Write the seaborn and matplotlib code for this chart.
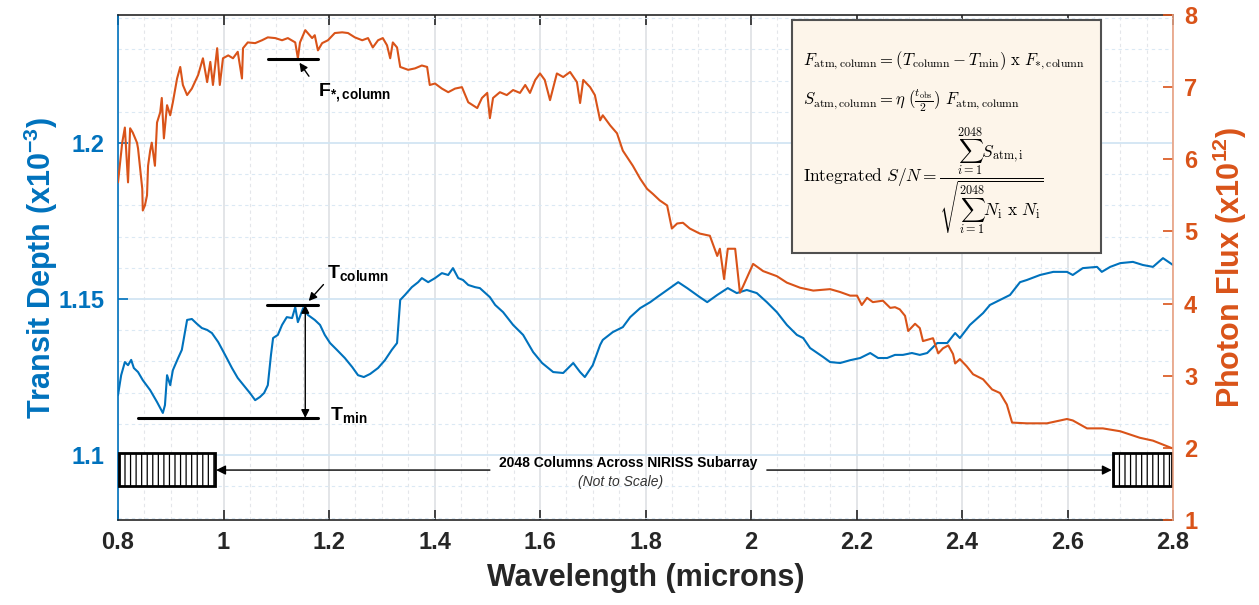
import matplotlib
matplotlib.use("Agg")
import matplotlib.pyplot as plt
import seaborn as sns
import pandas as pd
from matplotlib.patches import Rectangle
from matplotlib.ticker import MultipleLocator, FixedLocator, FixedFormatter

# ---------------- data ----------------
depth_wl = [0.800, 0.806, 0.813, 0.819, 0.825, 0.830, 0.838, 0.847, 0.861, 0.874,
            0.885, 0.889, 0.893, 0.899, 0.904, 0.914, 0.921, 0.927, 0.931, 0.940,
            0.950, 0.959, 0.969, 0.978, 0.990, 1.003, 1.016, 1.027, 1.041, 1.050,
            1.060, 1.069, 1.077, 1.084, 1.090, 1.094, 1.103, 1.111, 1.120, 1.130,
            1.136, 1.141, 1.151, 1.160, 1.173, 1.183, 1.192, 1.202, 1.215, 1.230,
            1.244, 1.255, 1.266, 1.278, 1.293, 1.306, 1.319, 1.329, 1.335, 1.344,
            1.357, 1.369, 1.376, 1.388, 1.401, 1.414, 1.426, 1.435, 1.445, 1.454,
            1.464, 1.477, 1.486, 1.505, 1.515, 1.530, 1.549, 1.568, 1.587, 1.604,
            1.625, 1.644, 1.663, 1.676, 1.685, 1.700, 1.714, 1.719, 1.738, 1.757,
            1.771, 1.790, 1.809, 1.822, 1.846, 1.862, 1.879, 1.903, 1.917, 1.936,
            1.956, 1.973, 1.992, 2.011, 2.030, 2.049, 2.068, 2.087, 2.099, 2.112,
            2.137, 2.150, 2.169, 2.188, 2.207, 2.226, 2.241, 2.258, 2.273, 2.288,
            2.305, 2.320, 2.334, 2.353, 2.372, 2.387, 2.396, 2.415, 2.440, 2.453,
            2.472, 2.491, 2.510, 2.523, 2.548, 2.573, 2.599, 2.610, 2.629, 2.656,
            2.665, 2.681, 2.700, 2.724, 2.743, 2.762, 2.781, 2.800]
depth_val = [1.1192, 1.1256, 1.1298, 1.1288, 1.1305, 1.1279, 1.1266, 1.1240, 1.1208, 1.1170,
             1.1135, 1.1160, 1.1256, 1.1224, 1.1272, 1.1311, 1.1337, 1.1394, 1.1433, 1.1436,
             1.1420, 1.1407, 1.1401, 1.1391, 1.1362, 1.1321, 1.1279, 1.1247, 1.1218, 1.1199,
             1.1176, 1.1186, 1.1199, 1.1224, 1.1321, 1.1375, 1.1385, 1.1417, 1.1442, 1.1439,
             1.1474, 1.1426, 1.1471, 1.1449, 1.1433, 1.1417, 1.1385, 1.1359, 1.1337, 1.1311,
             1.1282, 1.1256, 1.1250, 1.1260, 1.1279, 1.1304, 1.1337, 1.1359, 1.1497, 1.1513,
             1.1538, 1.1554, 1.1567, 1.1554, 1.1567, 1.1583, 1.1577, 1.1599, 1.1567, 1.1561,
             1.1545, 1.1538, 1.1535, 1.1506, 1.1481, 1.1458, 1.1417, 1.1385, 1.1330, 1.1295,
             1.1266, 1.1263, 1.1295, 1.1266, 1.1250, 1.1288, 1.1353, 1.1369, 1.1394, 1.1410,
             1.1442, 1.1471, 1.1490, 1.1506, 1.1535, 1.1554, 1.1535, 1.1506, 1.1490, 1.1513,
             1.1535, 1.1519, 1.1529, 1.1519, 1.1490, 1.1458, 1.1417, 1.1385, 1.1375, 1.1343,
             1.1314, 1.1298, 1.1295, 1.1304, 1.1311, 1.1327, 1.1311, 1.1311, 1.1321, 1.1321,
             1.1327, 1.1321, 1.1327, 1.1359, 1.1359, 1.1391, 1.1375, 1.1417, 1.1455, 1.1481,
             1.1497, 1.1513, 1.1554, 1.1561, 1.1577, 1.1587, 1.1587, 1.1577, 1.1599, 1.1603,
             1.1587, 1.1603, 1.1615, 1.1619, 1.1609, 1.1603, 1.1631, 1.1609]

flux_wl = [0.800, 0.808, 0.813, 0.819, 0.823, 0.828, 0.836, 0.838, 0.842, 0.846,
           0.847, 0.851, 0.855, 0.857, 0.861, 0.864, 0.870, 0.874, 0.880, 0.883,
           0.887, 0.893, 0.899, 0.904, 0.912, 0.918, 0.923, 0.931, 0.940, 0.952,
           0.961, 0.969, 0.975, 0.980, 0.988, 0.993, 0.999, 1.009, 1.018, 1.027,
           1.035, 1.037, 1.046, 1.060, 1.073, 1.084, 1.098, 1.111, 1.122, 1.136,
           1.141, 1.145, 1.155, 1.168, 1.173, 1.179, 1.187, 1.198, 1.211, 1.225,
           1.236, 1.249, 1.263, 1.274, 1.283, 1.293, 1.302, 1.310, 1.316, 1.321,
           1.329, 1.335, 1.350, 1.363, 1.376, 1.386, 1.391, 1.401, 1.414, 1.426,
           1.439, 1.452, 1.464, 1.481, 1.490, 1.500, 1.505, 1.511, 1.524, 1.537,
           1.549, 1.562, 1.572, 1.581, 1.591, 1.600, 1.609, 1.619, 1.632, 1.644,
           1.657, 1.670, 1.676, 1.682, 1.695, 1.704, 1.714, 1.719, 1.733, 1.746,
           1.757, 1.776, 1.790, 1.803, 1.814, 1.827, 1.841, 1.850, 1.860, 1.871,
           1.884, 1.903, 1.922, 1.936, 1.941, 1.949, 1.956, 1.970, 1.979, 1.985,
           2.004, 2.023, 2.049, 2.068, 2.093, 2.118, 2.150, 2.169, 2.188, 2.201,
           2.210, 2.220, 2.231, 2.250, 2.264, 2.273, 2.282, 2.292, 2.298, 2.311,
           2.320, 2.326, 2.345, 2.355, 2.364, 2.374, 2.383, 2.387, 2.396, 2.409,
           2.421, 2.440, 2.457, 2.472, 2.485, 2.495, 2.523, 2.561, 2.586, 2.599,
           2.610, 2.637, 2.667, 2.700, 2.737, 2.762, 2.800]
flux_val = [5.68, 6.23, 6.44, 5.68, 6.43, 6.37, 6.23, 6.15, 5.87, 5.59,
            5.29, 5.36, 5.50, 5.91, 6.12, 6.23, 5.91, 6.51, 6.65, 6.85,
            6.29, 6.75, 6.61, 6.79, 7.12, 7.28, 7.03, 6.89, 6.98, 7.17,
            7.40, 7.07, 7.35, 7.03, 7.54, 7.03, 7.40, 7.44, 7.40, 7.49,
            7.12, 7.54, 7.62, 7.61, 7.65, 7.69, 7.68, 7.65, 7.68, 7.62,
            7.40, 7.62, 7.79, 7.68, 7.72, 7.51, 7.61, 7.65, 7.75, 7.76,
            7.75, 7.69, 7.65, 7.68, 7.55, 7.65, 7.68, 7.58, 7.40, 7.62,
            7.55, 7.28, 7.24, 7.26, 7.30, 7.28, 7.03, 7.05, 6.98, 6.93,
            6.98, 7.00, 6.79, 6.71, 6.85, 6.92, 6.57, 6.85, 6.93, 6.89,
            6.96, 6.92, 7.03, 6.92, 7.10, 7.19, 7.10, 6.82, 7.19, 7.14,
            7.21, 7.07, 6.78, 7.10, 7.00, 6.89, 6.54, 6.61, 6.47, 6.36,
            6.12, 5.91, 5.73, 5.59, 5.52, 5.43, 5.36, 5.04, 5.11, 5.12,
            5.04, 4.97, 4.94, 4.66, 4.76, 4.34, 4.76, 4.76, 4.15, 4.24,
            4.55, 4.45, 4.38, 4.29, 4.22, 4.18, 4.20, 4.16, 4.11, 4.11,
            3.98, 4.08, 4.02, 4.04, 3.94, 3.95, 3.92, 3.83, 3.62, 3.72,
            3.66, 3.48, 3.52, 3.31, 3.38, 3.42, 3.30, 3.17, 3.23, 3.13,
            3.02, 2.95, 2.81, 2.76, 2.60, 2.35, 2.34, 2.34, 2.38, 2.40,
            2.38, 2.27, 2.27, 2.23, 2.14, 2.10, 1.99]

x_ticks = [0.8, 1.0, 1.2, 1.4, 1.6, 1.8, 2.0, 2.2, 2.4, 2.6, 2.8]
x_tick_labels = ["0.8", "1", "1.2", "1.4", "1.6", "1.8", "2", "2.2", "2.4", "2.6", "2.8"]
depth_ticks = [1.10, 1.15, 1.20]
depth_tick_labels = ["1.1", "1.15", "1.2"]
flux_ticks = [1, 2, 3, 4, 5, 6, 7, 8]
flux_tick_labels = ["1", "2", "3", "4", "5", "6", "7", "8"]

# annotation levels (data units)
t_column_level = 1.1481
t_min_level = 1.1119
f_star_level = 7.39

BLUE = "#0072BD"
ORANGE = "#D95319"
DARK = "#262626"

sns.set_style("white")
plt.rcParams['font.family'] = ['Liberation Sans', 'DejaVu Sans']
plt.rcParams['mathtext.fontset'] = 'custom'
plt.rcParams['mathtext.rm'] = 'Liberation Sans'
plt.rcParams['mathtext.bf'] = 'Liberation Sans:bold'
plt.rcParams['mathtext.it'] = 'Liberation Sans:italic'
plt.rcParams['hatch.linewidth'] = 0.9

W, H = 1259, 605
fig = plt.figure(figsize=(W / 100, H / 100), dpi=100)
ax = fig.add_axes([118 / W, 1 - 520 / H, 1055 / W, 505 / H])
ax2 = ax.twinx()

df_depth = pd.DataFrame({"wl": depth_wl, "depth": depth_val})
df_flux = pd.DataFrame({"wl": flux_wl, "flux": flux_val})

sns.lineplot(data=df_depth, x="wl", y="depth", ax=ax, color=BLUE, lw=1.5,
             sort=False, estimator=None)
sns.lineplot(data=df_flux, x="wl", y="flux", ax=ax2, color=ORANGE, lw=1.5,
             sort=False, estimator=None)

ax.set_xlim(0.8, 2.8)
ax.set_ylim(1.0792, 1.241)
ax2.set_ylim(1, 8)

# ticks
ax.xaxis.set_major_locator(FixedLocator(x_ticks))
ax.xaxis.set_major_formatter(FixedFormatter(x_tick_labels))
ax.xaxis.set_minor_locator(MultipleLocator(0.05))
ax.yaxis.set_major_locator(FixedLocator(depth_ticks))
ax.yaxis.set_major_formatter(FixedFormatter(depth_tick_labels))
ax.yaxis.set_minor_locator(MultipleLocator(0.01))
ax2.yaxis.set_major_locator(FixedLocator(flux_ticks))
ax2.yaxis.set_major_formatter(FixedFormatter(flux_tick_labels))

ax.tick_params(axis='x', which='major', direction='in', top=True, bottom=True,
               length=7, width=1.2, color=DARK, labelcolor=DARK, labelsize=17, pad=8)
ax.tick_params(axis='y', which='major', direction='in', length=7, width=1.2,
               color=BLUE, labelcolor=BLUE, labelsize=17, pad=10)
ax.tick_params(which='minor', length=0)
ax2.tick_params(axis='y', which='major', direction='in', length=7, width=1.2,
                color=ORANGE, labelcolor=ORANGE, labelsize=17, pad=8)
for lab in ax.get_xticklabels() + ax.get_yticklabels() + ax2.get_yticklabels():
    lab.set_fontweight('bold')

# grid
ax.set_axisbelow(True)
ax.grid(which='major', axis='x', color='#e1e3e6', lw=1.3)
ax.grid(which='major', axis='y', color='#d2e5f3', lw=1.3)
ax.grid(which='minor', axis='x', color='#e4e6ea', lw=0.8, ls=(0, (3, 3)))
ax.grid(which='minor', axis='y', color='#dbe9f4', lw=0.8, ls=(0, (3, 3)))
ax2.grid(False)

# spines
for s in ['top', 'bottom']:
    ax.spines[s].set_color(DARK)
    ax.spines[s].set_linewidth(1.2)
ax.spines['left'].set_color(BLUE)
ax.spines['left'].set_linewidth(1.2)
ax.spines['right'].set_visible(False)
for s in ['top', 'bottom', 'left']:
    ax2.spines[s].set_visible(False)
ax2.spines['right'].set_color('#e9a182')
ax2.spines['right'].set_linewidth(1.2)

# labels
ax.set_xlabel("Wavelength (microns)", fontsize=22, fontweight='bold', color=DARK)
ax.xaxis.set_label_coords(0.5, -0.085)
ax.set_ylabel(r"Transit Depth (x10$^{\mathbf{-3}}$)", fontsize=22, fontweight='bold', color=BLUE)
ax.yaxis.set_label_coords(-0.055, 0.5)
ax2.set_ylabel(r"Photon Flux (x10$^{\mathbf{12}}$)", fontsize=22, fontweight='bold', color=ORANGE)
ax2.yaxis.set_label_coords(1.036, 0.5)

# ---------------- annotations ----------------
ann_kw = dict(fontsize=14, fontweight='bold', color='black')
# F*,column
ax2.plot([1.084, 1.179], [f_star_level, f_star_level], color='black', lw=2.2, zorder=5)
ax2.annotate("", xy=(1.141, 7.37), xytext=(1.165, 7.12),
             arrowprops=dict(arrowstyle='-|>', color='black', lw=1.0, mutation_scale=12), zorder=5)
ax2.text(1.179, 6.87, r"F$_{\mathbf{*,column}}$", ha='left', va='baseline', **ann_kw)

# T_column
ax.plot([1.082, 1.179], [t_column_level, t_column_level], color='black', lw=2.2, zorder=5)
ax.annotate("", xy=(1.158, 1.1487), xytext=(1.193, 1.1553),
            arrowprops=dict(arrowstyle='-|>', color='black', lw=1.0, mutation_scale=12), zorder=5)
ax.text(1.197, 1.1567, r"T$_{\mathbf{column}}$", ha='left', va='baseline', **ann_kw)

# T_min
ax.plot([0.838, 1.179], [t_min_level, t_min_level], color='black', lw=2.2, zorder=5)
ax.text(1.202, 1.1112, r"T$_{\mathbf{min}}$", ha='left', va='baseline', **ann_kw)

# double arrow between T_column and T_min
ax.annotate("", xy=(1.155, t_column_level), xytext=(1.155, t_min_level),
            arrowprops=dict(arrowstyle='<|-|>', color='black', lw=1.0,
                            mutation_scale=12, shrinkA=0, shrinkB=0), zorder=5)

# detector boxes
for x0, w in [(0.802, 0.182), (2.686, 0.112)]:
    ax.add_patch(Rectangle((x0, 1.0901), w, 0.0105, facecolor='white',
                           edgecolor='black', lw=2.0, hatch='|||', zorder=6))
ax.annotate("", xy=(0.986, 1.0952), xytext=(1.505, 1.0952),
            arrowprops=dict(arrowstyle='-|>', color='black', lw=1.0,
                            mutation_scale=14, shrinkA=0, shrinkB=0), zorder=6)
ax.annotate("", xy=(2.684, 1.0952), xytext=(2.030, 1.0952),
            arrowprops=dict(arrowstyle='-|>', color='black', lw=1.0,
                            mutation_scale=14, shrinkA=0, shrinkB=0), zorder=6)
ax.text(1.767, 1.0976, "2048 Columns Across NIRISS Subarray", ha='center', va='center',
        fontsize=10, fontweight='bold', color='black', zorder=6)
ax.text(1.752, 1.0913, "(Not to Scale)", ha='center', va='center',
        fontsize=10, style='italic', color='#333333', zorder=6)

# equation box
box = Rectangle((792 / W, 1 - 253 / H), 309 / W, 233 / H, transform=fig.transFigure,
                facecolor='#fdf5ea', edgecolor='#505050', lw=1.5, zorder=20, clip_on=False)
ax2.add_patch(box)
eq_kw = dict(transform=fig.transFigure, ha='left', va='baseline', color='black',
             zorder=21, math_fontfamily='cm')
ax2.text(803 / W, 1 - 65 / H,
         r"$F_{\mathrm{atm,column}} = (T_{\mathrm{column}} - T_{\mathrm{min}})\ \mathrm{x}\ F_{*,\mathrm{column}}$",
         fontsize=12, **eq_kw)
ax2.text(803 / W, 1 - 104 / H,
         r"$S_{\mathrm{atm,column}} = \eta\ (\frac{t_{\mathrm{obs}}}{2})\ F_{\mathrm{atm,column}}$",
         fontsize=12, **eq_kw)
ax2.text(803 / W, 1 - 182 / H,
         r"$\mathrm{Integrated}\ S/N = \dfrac{\sum_{i=1}^{2048} S_{\mathrm{atm,i}}}{\sqrt{\sum_{i=1}^{2048} N_{\mathrm{i}}\ \mathrm{x}\ N_{\mathrm{i}}}}$",
         fontsize=12.5, **eq_kw)

fig.savefig("out.png", dpi=100)
